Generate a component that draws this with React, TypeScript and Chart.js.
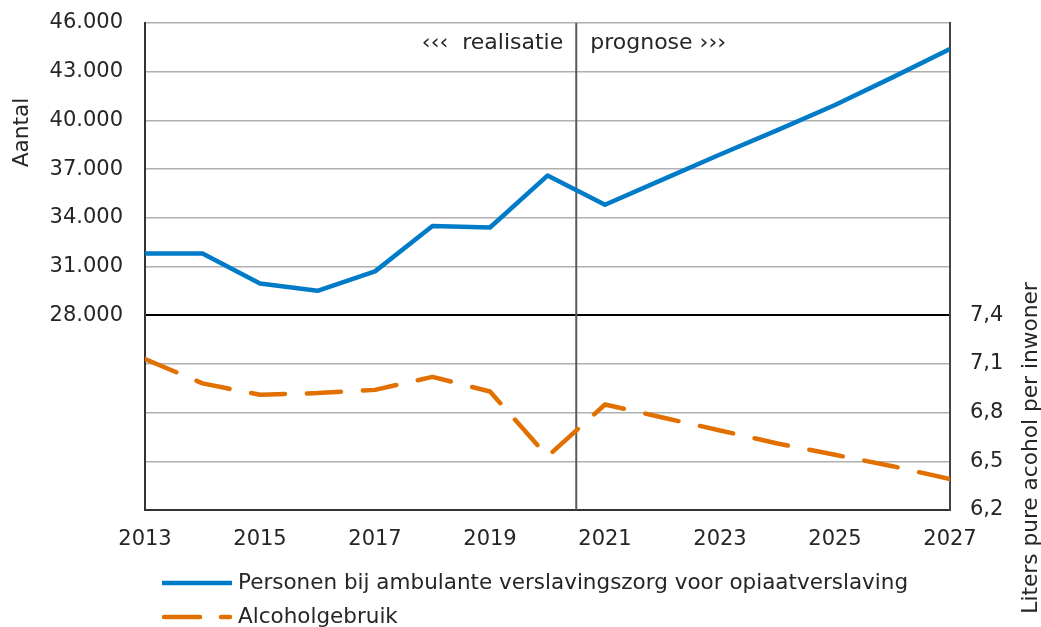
import React, { useEffect, useRef } from 'react';
import { Chart, registerables } from 'chart.js';

Chart.register(...registerables);

const years = [2013, 2014, 2015, 2016, 2017, 2018, 2019, 2020, 2021, 2022, 2023, 2024, 2025, 2026, 2027];
const xTickYears = [2013, 2015, 2017, 2019, 2021, 2023, 2025, 2027];
const opiaatValues = [31800, 31800, 29950, 29500, 30700, 33500, 33400, 36600, 34800, 36350, 37900, 39400, 40950, 42650, 44400];
const alcoholValues = [7.13, 6.98, 6.91, 6.92, 6.94, 7.02, 6.93, 6.53, 6.85, 6.77, 6.69, 6.61, 6.54, 6.47, 6.39];
const seriesLabels = ['Personen bij ambulante verslavingszorg voor opiaatverslaving', 'Alcoholgebruik'];
const leftTitle = 'Aantal';
const rightTitle = 'Liters pure acohol per inwoner';
const splitYear = 2020.5;
const realisatieLabel = '‹‹‹  realisatie';
const prognoseLabel = 'prognose ›››';
const leftLabelMin = 28000;
const rightLabelMax = 7.4;

const BLUE = '#007BC7';
const ORANGE = '#E17000';
const TEXT = '#262626';
const FONT_FAMILY = '"DejaVu Sans", Verdana, sans-serif';
const FONT_SIZE = 21;

const zeroPadding = (s: any) => {
  s.paddingTop = 0;
  s.paddingBottom = 0;
  s.paddingLeft = 0;
  s.paddingRight = 0;
};

const overlayPlugin = {
  id: 'overlay',
  beforeDatasetsDraw(chart: any) {
    const { ctx, chartArea, scales } = chart;
    const x = scales.x.getPixelForValue(splitYear);
    ctx.save();
    ctx.strokeStyle = '#5a5a5a';
    ctx.lineWidth = 2;
    ctx.beginPath();
    ctx.moveTo(x, chartArea.top);
    ctx.lineTo(x, chartArea.bottom);
    ctx.stroke();
    ctx.restore();
  },
  afterDraw(chart: any) {
    const { ctx, chartArea, scales } = chart;
    const x = scales.x.getPixelForValue(splitYear);
    ctx.save();
    ctx.fillStyle = TEXT;
    ctx.font = `22px ${FONT_FAMILY}`;
    ctx.textBaseline = 'middle';
    ctx.textAlign = 'right';
    ctx.fillText(realisatieLabel, x - 13, chartArea.top + 20);
    ctx.textAlign = 'left';
    ctx.fillText(prognoseLabel, x + 14, chartArea.top + 20);

    // axis titles
    ctx.font = `21.7px ${FONT_FAMILY}`;
    ctx.save();
    ctx.translate(22.5, 132.5);
    ctx.rotate(-Math.PI / 2);
    ctx.textAlign = 'center';
    ctx.fillText(leftTitle, 0, 0);
    ctx.restore();

    ctx.save();
    ctx.translate(1031, 448);
    ctx.rotate(-Math.PI / 2);
    ctx.textAlign = 'center';
    ctx.fillText(rightTitle, 0, 0);
    ctx.restore();

    // legend
    const lx0 = 162;
    const lx1 = 232;
    const rows = [583, 617];
    ctx.lineWidth = 4.5;
    ctx.strokeStyle = BLUE;
    ctx.beginPath();
    ctx.moveTo(lx0, rows[0]);
    ctx.lineTo(lx1, rows[0]);
    ctx.stroke();
    ctx.strokeStyle = ORANGE;
    ctx.lineCap = 'round';
    ctx.setLineDash([36, 21]);
    ctx.beginPath();
    ctx.moveTo(lx0 + 2, rows[1]);
    ctx.lineTo(lx1 - 2, rows[1]);
    ctx.stroke();
    ctx.setLineDash([]);
    ctx.font = `21.5px ${FONT_FAMILY}`;
    ctx.textAlign = 'left';
    ctx.fillText(seriesLabels[0], 238, rows[0]);
    ctx.fillText(seriesLabels[1], 238, rows[1]);
    ctx.restore();
  },
};

export default function App() {
  const canvasRef = useRef<HTMLCanvasElement | null>(null);

  useEffect(() => {
    const canvas = canvasRef.current;
    if (!canvas) return;
    const font = { family: FONT_FAMILY, size: FONT_SIZE };
    const chart = new Chart(canvas, {
      type: 'line',
      data: {
        datasets: [
          {
            label: seriesLabels[0],
            data: years.map((x, i) => ({ x, y: opiaatValues[i] })),
            yAxisID: 'yL',
            borderColor: BLUE,
            backgroundColor: BLUE,
            borderWidth: 4.5,
            pointRadius: 0,
            tension: 0,
            borderJoinStyle: 'round',
          },
          {
            label: seriesLabels[1],
            data: years.map((x, i) => ({ x, y: alcoholValues[i] })),
            yAxisID: 'yR',
            borderColor: ORANGE,
            backgroundColor: ORANGE,
            borderWidth: 4.5,
            borderDash: [34, 22],
            borderCapStyle: 'round',
            borderJoinStyle: 'round',
            pointRadius: 0,
            tension: 0,
          },
        ],
      },
      options: {
        responsive: false,
        maintainAspectRatio: false,
        animation: false,
        devicePixelRatio: 1,
        layout: { padding: { top: 23, left: 0, right: 0, bottom: 0 } },
        plugins: {
          legend: { display: false },
          tooltip: { enabled: false },
        },
        scales: {
          x: {
            type: 'linear',
            min: years[0],
            max: years[years.length - 1],
            afterBuildTicks: (s: any) => {
              s.ticks = xTickYears.map((v) => ({ value: v }));
            },
            afterFit: (s: any) => {
              s.height = 117;
              zeroPadding(s);
            },
            grid: { display: false, drawTicks: false },
            border: { display: true, color: '#333333', width: 2 },
            ticks: {
              font,
              color: TEXT,
              padding: 17,
              maxRotation: 0,
              autoSkip: false,
              callback: (v: any) => String(v),
            },
          },
          yL: {
            type: 'linear',
            position: 'left',
            min: 16000,
            max: 46000,
            afterFit: (s: any) => {
              s.width = 145;
              zeroPadding(s);
            },
            ticks: {
              stepSize: 3000,
              font,
              color: TEXT,
              padding: 22,
              callback: (v: any) => (v >= leftLabelMin ? (v / 1000).toFixed(3) : ''),
            },
            grid: {
              drawTicks: false,
              color: (c: any) => (c.tick && c.tick.value === leftLabelMin ? '#000000' : '#b0b0b0'),
              lineWidth: (c: any) => (c.tick && c.tick.value === leftLabelMin ? 2 : 1.5),
            },
            border: { display: true, color: '#333333', width: 2 },
          },
          yR: {
            type: 'linear',
            position: 'right',
            min: 6.2,
            max: 9.2,
            afterFit: (s: any) => {
              s.width = 91;
              zeroPadding(s);
            },
            ticks: {
              stepSize: 0.3,
              font,
              color: TEXT,
              padding: 20,
              callback: (v: any) => (v <= rightLabelMax + 1e-6 ? Number(v).toFixed(1).replace('.', ',') : ''),
            },
            grid: { display: false, drawTicks: false },
            border: { display: true, color: '#444444', width: 2 },
          },
        },
      },
      plugins: [overlayPlugin],
    } as any);
    return () => chart.destroy();
  }, []);

  return (
    <div style={{ position: 'absolute', left: 0, top: 0, width: 1041, height: 627, background: '#fff' }}>
      <canvas ref={canvasRef} width={1041} height={627} style={{ width: 1041, height: 627, display: 'block' }} />
    </div>
  );
}
